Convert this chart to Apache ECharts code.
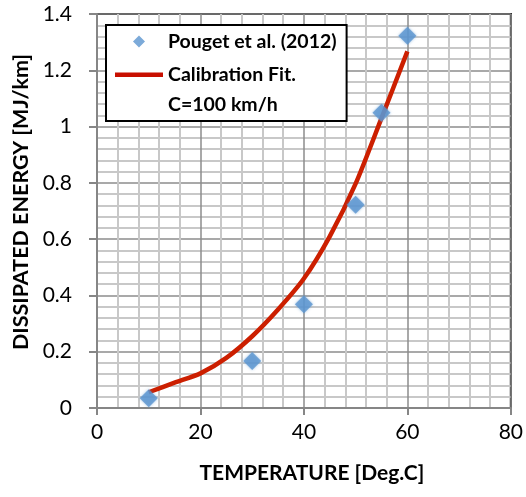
<!DOCTYPE html>
<html><head><meta charset="utf-8">
<script src="https://cdn.jsdelivr.net/npm/echarts@6/dist/echarts.min.js"></script>
<style>html,body{margin:0;padding:0;background:#fff}#c{width:526px;height:497px}</style>
</head><body><div id="c"></div>
<script>
const xTicks = [0, 20, 40, 60, 80];
const yTicks = [0, 0.2, 0.4, 0.6, 0.8, 1, 1.2, 1.4];
const obsTemp = [10, 30, 40, 50, 55, 60];
const obsEnergy = [0.035, 0.167, 0.369, 0.722, 1.049, 1.323];
const fitTemp = [10, 15, 20, 25, 30, 35, 40, 45, 50, 55, 60];
const fitEnergy = [0.056, 0.09, 0.123, 0.178, 0.255, 0.35, 0.46, 0.61, 0.797, 1.03, 1.267];
const obsName = 'Pouget et al. (2012)';
const fitName = 'Calibration Fit.';
const fitNote = 'C=100 km/h';
const xTitle = 'TEMPERATURE [Deg.C]';
const yTitle = 'DISSIPATED ENERGY [MJ/km]';

const FONT = 'Lato';
const chart = echarts.init(document.getElementById('c'));
chart.setOption({
  animation: false,
  backgroundColor: '#fff',
  grid: { left: 97, right: 13, top: 14, bottom: 89, show: true, borderColor: '#000', borderWidth: 2, backgroundColor: 'transparent' },
  xAxis: {
    type: 'value', min: xTicks[0], max: xTicks[xTicks.length - 1], interval: 20,
    name: xTitle, nameLocation: 'middle', nameGap: 55,
    nameTextStyle: { fontFamily: FONT, fontWeight: 'bold', fontSize: 21, color: '#000', padding: [0, 0, 0, 16] },
    axisLine: { show: true, lineStyle: { color: '#868686', width: 2 } },
    axisTick: { show: true, length: 7, lineStyle: { color: '#868686', width: 2 } },
    axisLabel: { fontFamily: FONT, fontSize: 21, color: '#000', margin: 14 },
    splitLine: { show: true, lineStyle: { color: '#8c8c8c', width: 1.5 } },
    minorTick: { show: false, splitNumber: 5 },
    minorSplitLine: { show: true, lineStyle: { color: '#c8c8c8', width: 2 } }
  },
  yAxis: {
    type: 'value', min: yTicks[0], max: yTicks[yTicks.length - 1], interval: 0.2,
    name: yTitle, nameLocation: 'middle', nameGap: 64,
    nameTextStyle: { fontFamily: FONT, fontWeight: 'bold', fontSize: 21.5, color: '#000', padding: [0, 0, 0, 18] },
    axisLine: { show: true, lineStyle: { color: '#868686', width: 2 } },
    axisTick: { show: true, length: 8, lineStyle: { color: '#868686', width: 2 } },
    axisLabel: { fontFamily: FONT, fontSize: 21, color: '#000', margin: 25,
      formatter: v => String(Math.round(v * 10) / 10) },
    splitLine: { show: true, lineStyle: { color: '#8c8c8c', width: 1.5 } },
    minorTick: { show: false, splitNumber: 5 },
    minorSplitLine: { show: true, lineStyle: { color: '#c8c8c8', width: 2 } }
  },
  legend: {
    orient: 'vertical', left: 106, top: 25,
    backgroundColor: '#fff', borderColor: '#000', borderWidth: 2,
    padding: [4, 10, 6, 9], itemGap: 8, itemWidth: 48, itemHeight: 12,
    textStyle: { fontFamily: FONT, fontWeight: 'bold', fontSize: 19.5, color: '#000', lineHeight: 25 },
    data: [
      { name: obsName, icon: 'path://M24,0L30,6L24,12L18,6Z M0,6h0.001v0.001z M48,6h0.001v0.001z' },
      { name: fitName, icon: 'path://M0,4h48v4.5h-48z M0,0h0.001v0.001z M0,12h0.001v0.001z' },
      { name: fitNote, icon: 'path://M0,0h0.001v0.001z M48,12h0.001v0.001z', textStyle: { lineHeight: 12 } }
    ]
  },
  series: [
    {
      name: fitName, type: 'line', z: 3,
      data: fitTemp.map((t, i) => [t, fitEnergy[i]]),
      smooth: 0.25, symbol: 'none',
      lineStyle: { color: '#cc1f00', width: 4.5 },
      itemStyle: { color: '#c80f00' }
    },
    {
      name: obsName, type: 'scatter', z: 4,
      data: obsTemp.map((t, i) => [t, obsEnergy[i]]),
      symbol: 'diamond', symbolSize: 18,
      itemStyle: { color: '#5b95cf', shadowBlur: 3, shadowColor: 'rgba(91,149,207,0.7)' }
    },
    {
      name: fitNote, type: 'line', data: [], symbol: 'none',
      lineStyle: { color: 'transparent' }, itemStyle: { color: 'transparent' }
    }
  ]
});
</script></body></html>
